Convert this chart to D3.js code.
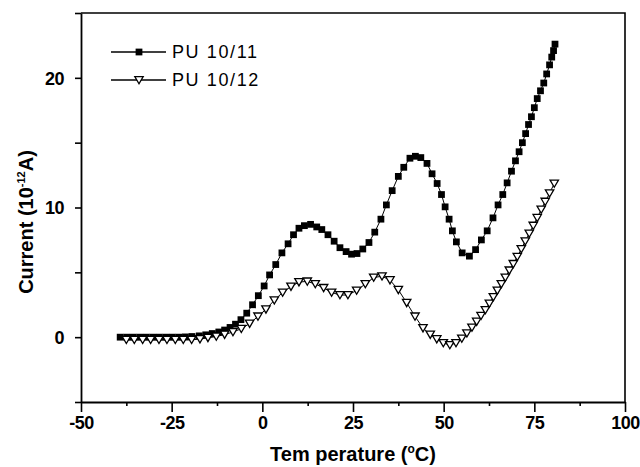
<!DOCTYPE html>
<html>
<head>
<meta charset="utf-8">
<script src="https://cdn.jsdelivr.net/npm/d3@7"></script>
<style>
  body { margin: 0; background: #fff; }
  svg { display: block; font-family: 'Liberation Sans', Arial, sans-serif; }
</style>
</head>
<body>
<div id="graf"></div>
<script>
// PU 10/11 (filled squares)
const tempA = [-39.2, -37.4, -35.6, -33.8, -32, -30.2, -28.4, -26.6, -24.8, -23, -21.2, -19.4,
  -17.4, -15.6, -13.8, -12, -10.4, -8.9, -7.4, -5.9, -4.3, -2.7, -1.1, 0.5, 2, 3.7, 5.4, 7.1,
  8.6, 10.1, 11.6, 13.3, 15, 16.4, 18.1, 19.8, 21.4, 23.1, 24.6, 26.1, 27.7, 29.4, 31, 32.7,
  34.2, 35.8, 37.5, 39, 40.7, 42.2, 43.7, 45.4, 46.8, 48.2, 49.4, 50.4, 51.5, 52.4, 53.5, 55.1,
  57.1, 58.8, 60.4, 62, 63.6, 65, 66.3, 67.5, 68.7, 69.8, 70.8, 71.7, 72.6, 73.4, 74.2, 75,
  75.8, 76.7, 77.6, 78.4, 79.2, 79.8, 80.3, 80.7]
const currentA = [0, 0, 0, 0, 0, 0, 0, 0, 0, 0, 0.02, 0.05,
  0.1, 0.18, 0.28, 0.4, 0.55, 0.75, 1.0, 1.35, 1.85, 2.5, 3.2, 3.95, 4.8, 5.6, 6.5, 7.2,
  7.9, 8.4, 8.6, 8.7, 8.5, 8.3, 7.9, 7.4, 6.9, 6.6, 6.4, 6.45, 6.8, 7.3, 8.1, 9.1,
  10.2, 11.3, 12.4, 13.1, 13.8, 13.95, 13.85, 13.4, 12.6, 11.85, 11.0, 10.05, 9.1, 8.2, 7.35, 6.5,
  6.25, 6.75, 7.5, 8.2, 9.2, 10.2, 11.0, 11.9, 12.8, 13.6, 14.3, 15.0, 15.7, 16.4, 17.0, 17.7,
  18.4, 19.0, 19.6, 20.3, 21.0, 21.6, 22.1, 22.6]

// PU 10/12 (open down-triangles)
const tempB = [-37.5, -35.3, -33, -30.8, -28.5, -26.3, -24, -21.8, -19.5,
  -17.2, -15, -12.7, -10.4, -8.1, -5.8, -3.5, -1.2,
  1, 3.3, 5.6, 7.9, 10.1, 12.4, 14.6, 16.9, 19.1, 21.4, 23.6,
  26, 28.4, 30.7, 33, 35.2, 37.5, 39.8, 42.1, 44.3,
  46.3, 48.1, 49.9, 51.7, 53.4, 55,
  56.4, 57.8, 59.1, 60.3, 61.5, 62.6, 63.7, 64.8, 65.9, 67, 68.1, 69.2, 70.3, 71.4, 72.5,
  73.6, 74.7, 75.8, 76.9, 78, 79.2, 80.5]
const currentB = [-0.2, -0.2, -0.2, -0.2, -0.2, -0.2, -0.2, -0.2, -0.2,
  -0.15, -0.05, 0.05, 0.2, 0.4, 0.65, 1.05, 1.6,
  2.15, 2.85, 3.45, 3.9, 4.25, 4.3, 4.1, 3.8, 3.45, 3.25, 3.25,
  3.6, 4.1, 4.6, 4.7, 4.4, 3.65, 2.65, 1.6, 0.7,
  0.2, -0.15, -0.45, -0.6, -0.45, -0.1,
  0.3, 0.75, 1.2, 1.65, 2.1, 2.6, 3.1, 3.6, 4.1, 4.6, 5.15, 5.65, 6.2, 6.8, 7.4,
  8.0, 8.6, 9.2, 9.85, 10.45, 11.1, 11.85]

const seriesNames = ['PU 10/11', 'PU 10/12']
const xTicks = [-50, -37.5, -25, -12.5, 0, 12.5, 25, 37.5, 50, 62.5, 75, 87.5, 100]
const xLabels = [-50, -25, 0, 25, 50, 75, 100]
const yTicks = [-5, 0, 5, 10, 15, 20, 25]
const yLabels = [0, 10, 20]

const ancho = 640
const alto = 467
const margen = { left: 81, right: 15, top: 13, bottom: 65 }

const svg = d3.select('#graf').append('svg')
    .attr('width', ancho)
    .attr('height', alto)

svg.append('rect').attr('width', ancho).attr('height', alto).attr('fill', '#fff')

const x = d3.scaleLinear().domain([-50, 100]).range([margen.left, ancho - margen.right])
const y = d3.scaleLinear().domain([-5, 25]).range([alto - margen.bottom, margen.top])

// frame (top and right)
svg.append('path')
    .attr('d', `M${x(-50)},${y(25)}H${x(100)}V${y(-5)}`)
    .attr('fill', 'none').attr('stroke', '#000').attr('stroke-width', 1.6)

// x axis
const xAxis = svg.append('g')
    .attr('transform', `translate(0,${y(-5)})`)
    .call(d3.axisBottom(x).tickValues(xTicks).tickSizeOuter(0)
        .tickSize(0).tickFormat(''))
xAxis.select('.domain').attr('stroke-width', 1.8)
xAxis.selectAll('.tick line')
    .attr('y2', d => xLabels.includes(d) ? 10 : 4)
    .attr('stroke-width', 1.6)
xAxis.selectAll('.tick').filter(d => xLabels.includes(d))
    .append('text')
    .attr('y', 27).attr('fill', '#000')
    .attr('font-size', 18).attr('font-weight', 'bold')
    .attr('letter-spacing', -0.5)
    .attr('text-anchor', 'middle')
    .text(d => d)

// y axis
const yAxis = svg.append('g')
    .attr('transform', `translate(${x(-50)},0)`)
    .call(d3.axisLeft(y).tickValues(yTicks).tickSize(6).tickSizeOuter(0).tickFormat(''))
yAxis.select('.domain').attr('stroke-width', 1.8)
yAxis.selectAll('.tick line').attr('stroke-width', 1.6)
yAxis.selectAll('.tick').filter(d => yLabels.includes(d))
    .append('text')
    .attr('x', -17).attr('dy', '0.35em').attr('fill', '#000')
    .attr('font-size', 18).attr('font-weight', 'bold')
    .attr('letter-spacing', -0.5)
    .attr('text-anchor', 'end')
    .text(d => d)

// axis titles
const xTitle = svg.append('text')
    .attr('x', x(25)).attr('y', 461)
    .attr('text-anchor', 'middle')
    .attr('font-size', 20).attr('font-weight', 'bold')
xTitle.append('tspan').text('Tem perature (')
xTitle.append('tspan').attr('font-size', 12).attr('dy', -8).text('o')
xTitle.append('tspan').attr('dy', 8).text('C)')

const yTitle = svg.append('text')
    .attr('transform', `translate(33,222) rotate(-90)`)
    .attr('text-anchor', 'middle')
    .attr('font-size', 20).attr('font-weight', 'bold')
yTitle.append('tspan').text('Current (10')
yTitle.append('tspan').attr('font-size', 11).attr('dy', -8).text('-12')
yTitle.append('tspan').attr('dy', 8).text('A)')

// series
const datosA = tempA.map((t, i) => ({ t, c: currentA[i] }))
const datosB = tempB.map((t, i) => ({ t, c: currentB[i] }))

const linea = d3.line().x(d => x(d.t)).y(d => y(d.c))

const cuadrado = d3.symbol().type(d3.symbolSquare).size(46)
const triangulo = 'M-4.2,-3.4L4.2,-3.4L0,3.8Z'

svg.append('path').datum(datosA)
    .attr('d', linea).attr('fill', 'none').attr('stroke', '#000').attr('stroke-width', 1)
svg.append('path').datum(datosB)
    .attr('d', linea).attr('fill', 'none').attr('stroke', '#000').attr('stroke-width', 1)

svg.append('g').selectAll('path').data(datosA).enter().append('path')
    .attr('transform', d => `translate(${x(d.t)},${y(d.c)})`)
    .attr('d', cuadrado)
    .attr('fill', '#000')

svg.append('g').selectAll('path').data(datosB).enter().append('path')
    .attr('transform', d => `translate(${x(d.t)},${y(d.c)})`)
    .attr('d', triangulo)
    .attr('fill', '#fff').attr('stroke', '#000').attr('stroke-width', 1.3)

// legend
const leyenda = svg.append('g')
const filas = [52, 80]
seriesNames.forEach((nombre, i) => {
    const fy = filas[i]
    leyenda.append('line')
        .attr('x1', 111).attr('x2', 166).attr('y1', fy).attr('y2', fy)
        .attr('stroke', '#000').attr('stroke-width', 1.3)
    leyenda.append('path')
        .attr('transform', `translate(139,${fy})`)
        .attr('d', i === 0 ? cuadrado() : triangulo)
        .attr('fill', i === 0 ? '#000' : '#fff')
        .attr('stroke', i === 0 ? 'none' : '#000').attr('stroke-width', 1.3)
    leyenda.append('text')
        .attr('x', 172).attr('y', fy).attr('dy', '0.36em')
        .attr('font-size', 18).attr('letter-spacing', 1.6)
        .text(nombre)
})
</script>
</body>
</html>
